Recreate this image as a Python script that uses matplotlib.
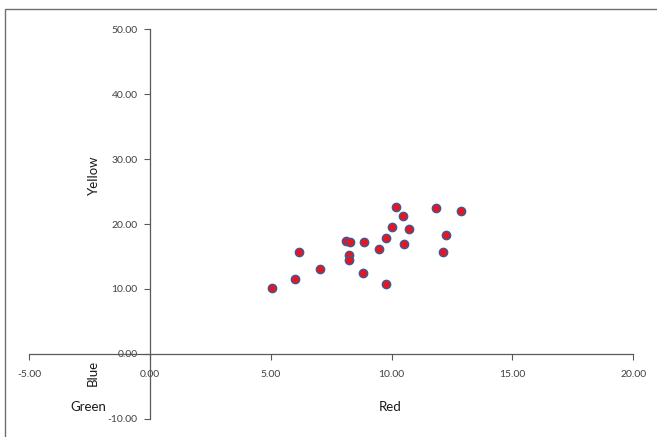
import numpy as np
import matplotlib.pyplot as plt
from matplotlib.ticker import FormatStrFormatter
from matplotlib.patches import Rectangle

# data
red = np.array([5.05, 6.00, 6.18, 7.03, 8.12, 8.28, 8.22, 8.22, 8.81, 8.85, 9.47,
                9.77, 9.77, 10.03, 10.17, 10.48, 10.53, 10.72, 11.85, 12.14, 12.27, 12.87])
yellow = np.array([10.16, 11.50, 15.76, 13.04, 17.45, 17.15, 15.20, 14.53, 12.47, 17.15, 16.17,
                   17.81, 10.83, 19.56, 22.59, 21.20, 16.99, 19.30, 22.43, 15.76, 18.38, 22.02])
x_ticks = [-5, 0, 5, 10, 15, 20]
y_ticks = [-10, 0, 10, 20, 30, 40, 50]

plt.rcParams["font.family"] = ["Lato", "DejaVu Sans"]

fig = plt.figure(figsize=(6.57, 4.37), dpi=100)
ax = fig.add_axes([29.3 / 657, 1 - 418.7 / 437, (633.1 - 29.3) / 657, (418.7 - 29.3) / 437])

# outer frame of the chart area
fig.patches.append(Rectangle((5 / 657, -0.1), 1.2, 1 - 9 / 437 + 0.1, transform=fig.transFigure,
                             fill=False, edgecolor="#6f6f6f", linewidth=1.0))

ax.scatter(red, yellow, s=36, color="#e8141e", edgecolors="#3a5a9a", linewidths=1.0, zorder=3)

ax.set_xlim(-5, 20)
ax.set_ylim(-10, 50)
ax.set_xticks(x_ticks)
ax.set_yticks(y_ticks)
ax.xaxis.set_major_formatter(FormatStrFormatter("%.2f"))
ax.yaxis.set_major_formatter(FormatStrFormatter("%.2f"))

for side in ["top", "right"]:
    ax.spines[side].set_visible(False)
ax.spines["left"].set_position(("data", 0))
ax.spines["bottom"].set_position(("data", 0))
for side in ["left", "bottom"]:
    ax.spines[side].set_color("#595959")
    ax.spines[side].set_linewidth(0.9)

ax.tick_params(axis="both", direction="out", length=4, width=0.8, color="#595959",
               labelsize=7.5, labelcolor="#404040")
ax.tick_params(axis="x", pad=8)
ax.tick_params(axis="y", pad=5)
ax.patch.set_alpha(0)

fig.text(94 / 657, 1 - 175 / 437, "Yellow", rotation=90, ha="center", va="center",
         fontsize=9.5, color="#1a1a1a")
fig.text(93 / 657, 1 - 373 / 437, "Blue", rotation=90, ha="center", va="center",
         fontsize=9.5, color="#1a1a1a")
fig.text(88 / 657, 1 - 407 / 437, "Green", ha="center", va="center",
         fontsize=9.5, color="#1a1a1a")
fig.text(390 / 657, 1 - 407 / 437, "Red", ha="center", va="center",
         fontsize=9.5, color="#1a1a1a")

fig.savefig("out.png", dpi=100)
